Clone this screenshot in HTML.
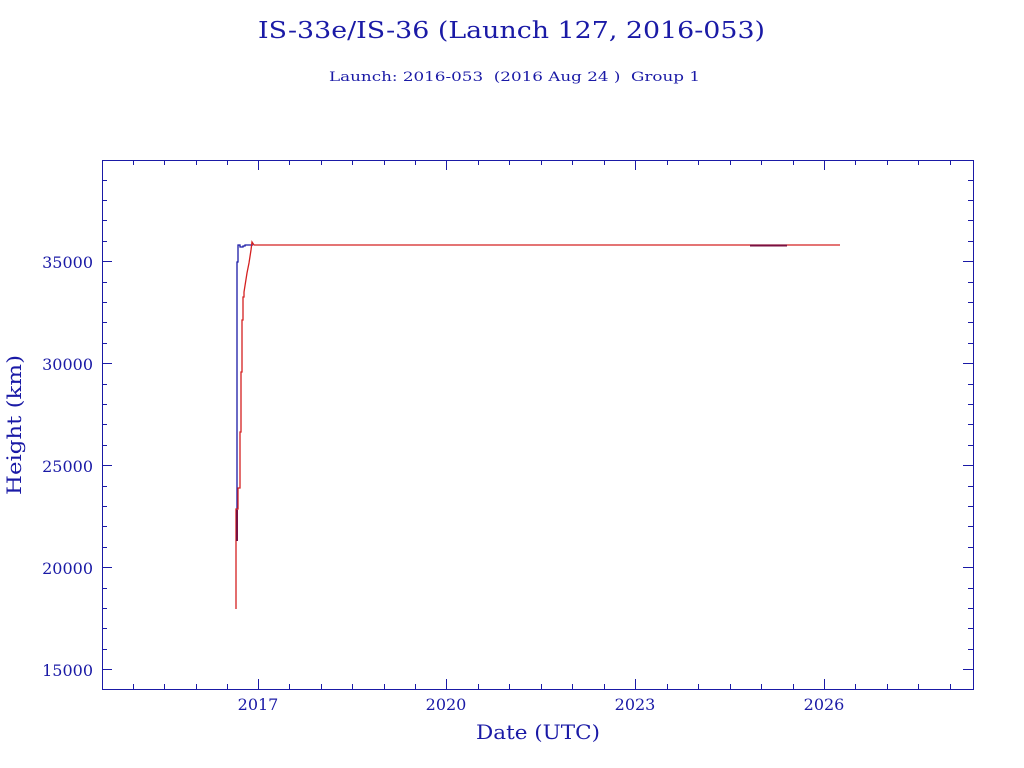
<!DOCTYPE html>
<html><head><style>body{margin:0;background:#fff}svg{display:block}</style></head><body>
<svg width="1024" height="768" xmlns="http://www.w3.org/2000/svg" font-family="'DejaVu Serif','Liberation Serif',serif" fill="#1a1aa6">
<text x="258" y="38" font-size="23" textLength="507" lengthAdjust="spacingAndGlyphs">IS-33e/IS-36 (Launch 127, 2016-053)</text>
<text x="329" y="81" font-size="13" textLength="371" lengthAdjust="spacingAndGlyphs" xml:space="preserve">Launch: 2016-053  (2016 Aug 24 )  Group 1</text>
<g stroke="#1a1aa6" stroke-width="1" fill="none">
<rect x="102.5" y="160.5" width="871" height="529"/>
<path d="M102 669.5h10M102 567.5h10M102 465.5h10M102 363.5h10M102 261.5h10M973 669.5h-10M973 567.5h-10M973 465.5h-10M973 363.5h-10M973 261.5h-10"/>
<path d="M102 689.5h5M102 649.5h5M102 628.5h5M102 608.5h5M102 588.5h5M102 547.5h5M102 526.5h5M102 506.5h5M102 486.5h5M102 445.5h5M102 424.5h5M102 404.5h5M102 384.5h5M102 343.5h5M102 322.5h5M102 302.5h5M102 282.5h5M102 241.5h5M102 220.5h5M102 200.5h5M102 180.5h5M973 649.5h-5M973 628.5h-5M973 608.5h-5M973 588.5h-5M973 547.5h-5M973 526.5h-5M973 506.5h-5M973 486.5h-5M973 445.5h-5M973 424.5h-5M973 404.5h-5M973 384.5h-5M973 343.5h-5M973 322.5h-5M973 302.5h-5M973 282.5h-5M973 241.5h-5M973 220.5h-5M973 200.5h-5M973 180.5h-5"/>
<path d="M258.5 689v-10M446.5 689v-10M635.5 689v-10M824.5 689v-10M258.5 160v10M446.5 160v10M635.5 160v10M824.5 160v10"/>
<path d="M133.5 689v-5M164.5 689v-5M196.5 689v-5M227.5 689v-5M289.5 689v-5M321.5 689v-5M352.5 689v-5M384.5 689v-5M415.5 689v-5M478.5 689v-5M509.5 689v-5M541.5 689v-5M572.5 689v-5M604.5 689v-5M667.5 689v-5M698.5 689v-5M730.5 689v-5M761.5 689v-5M793.5 689v-5M855.5 689v-5M887.5 689v-5M918.5 689v-5M950.5 689v-5"/>
<path d="M133.5 160v5M164.5 160v5M196.5 160v5M227.5 160v5M289.5 160v5M321.5 160v5M352.5 160v5M384.5 160v5M415.5 160v5M478.5 160v5M509.5 160v5M541.5 160v5M572.5 160v5M604.5 160v5M667.5 160v5M698.5 160v5M730.5 160v5M761.5 160v5M793.5 160v5M855.5 160v5M887.5 160v5M918.5 160v5M950.5 160v5"/>
</g>
<g font-size="16" text-anchor="end">
<text x="93" y="676">15000</text><text x="93" y="574">20000</text><text x="93" y="472">25000</text><text x="93" y="370">30000</text><text x="93" y="268">35000</text>
</g>
<g font-size="16" text-anchor="middle">
<text x="258" y="710">2017</text><text x="446" y="710">2020</text><text x="635" y="710">2023</text><text x="824" y="710">2026</text>
</g>
<text x="476" y="739" font-size="20" textLength="124" lengthAdjust="spacingAndGlyphs">Date (UTC)</text>
<text transform="translate(21,495) rotate(-90)" font-size="20" textLength="140" lengthAdjust="spacingAndGlyphs">Height (km)</text>
<g fill="none" stroke-width="1.3">
<path stroke="#1a1aa6" d="M237 541V262H238V245H240V247H243V246H245V245H253M750 245.5H787"/>
<path stroke="#d42020" d="M236 609V509H238V488H240V432H241V372H242V320H243V297H244V292L247 273L249 263L251 250L252 242L254 245H840"/>
<path stroke="#7a1040" stroke-width="2" d="M750 245.5H787M237 510V541"/>
</g>
</svg>
</body></html>
